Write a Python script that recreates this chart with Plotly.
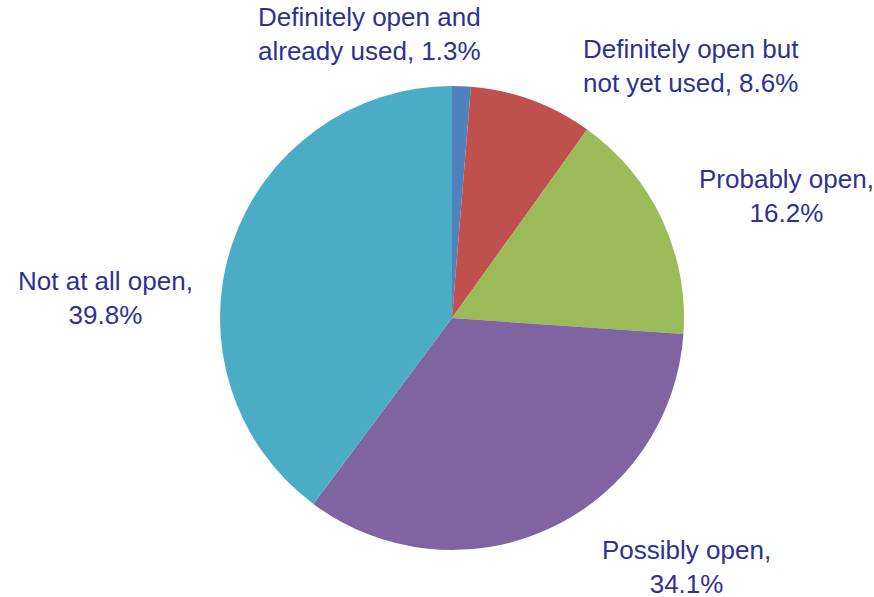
import plotly.graph_objects as go

categories = [
    "Definitely open and already used",
    "Definitely open but not yet used",
    "Probably open",
    "Possibly open",
    "Not at all open",
]
values = [1.3, 8.6, 16.2, 34.1, 39.8]
colors = ["#4F81BD", "#C0504D", "#9BBB59", "#8064A2", "#4BACC6"]

# how each label is wrapped onto two lines
wrapped = [
    "Definitely open and<br>already used, {v}%",
    "Definitely open but<br>not yet used, {v}%",
    "Probably open,<br>{v}%",
    "Possibly open,<br>{v}%",
    "Not at all open,<br>{v}%",
]

W, H = 874, 597
# label anchor positions (screen pixels)
label_pos = [(369, 34), (691, 66), (786, 196), (686, 567), (105, 298)]
cx, cy, r = 452, 318, 232

fig = go.Figure(
    go.Pie(
        labels=categories,
        values=values,
        sort=False,
        direction="clockwise",
        rotation=0,
        marker=dict(colors=colors, line=dict(width=0)),
        textinfo="none",
        hoverinfo="label+percent",
        showlegend=False,
        domain=dict(x=[(cx - r) / W, (cx + r) / W], y=[1 - (cy + r) / H, 1 - (cy - r) / H]),
    )
)

for tmpl, v, (px, py) in zip(wrapped, values, label_pos):
    fig.add_annotation(
        x=px / W,
        y=1 - py / H,
        xref="paper",
        yref="paper",
        text=tmpl.format(v=v),
        showarrow=False,
        xanchor="center",
        yanchor="middle",
        align="center",
        font=dict(family="Liberation Sans, Arial, sans-serif", size=26, color="#2E3192"),
    )

fig.update_layout(
    width=W,
    height=H,
    margin=dict(l=0, r=0, t=0, b=0),
    paper_bgcolor="white",
    plot_bgcolor="white",
)

fig.write_html(
    "out.html",
    config={"responsive": False, "displayModeBar": False},
    post_script="document.body.style.margin='0';document.body.style.overflow='hidden';",
)
